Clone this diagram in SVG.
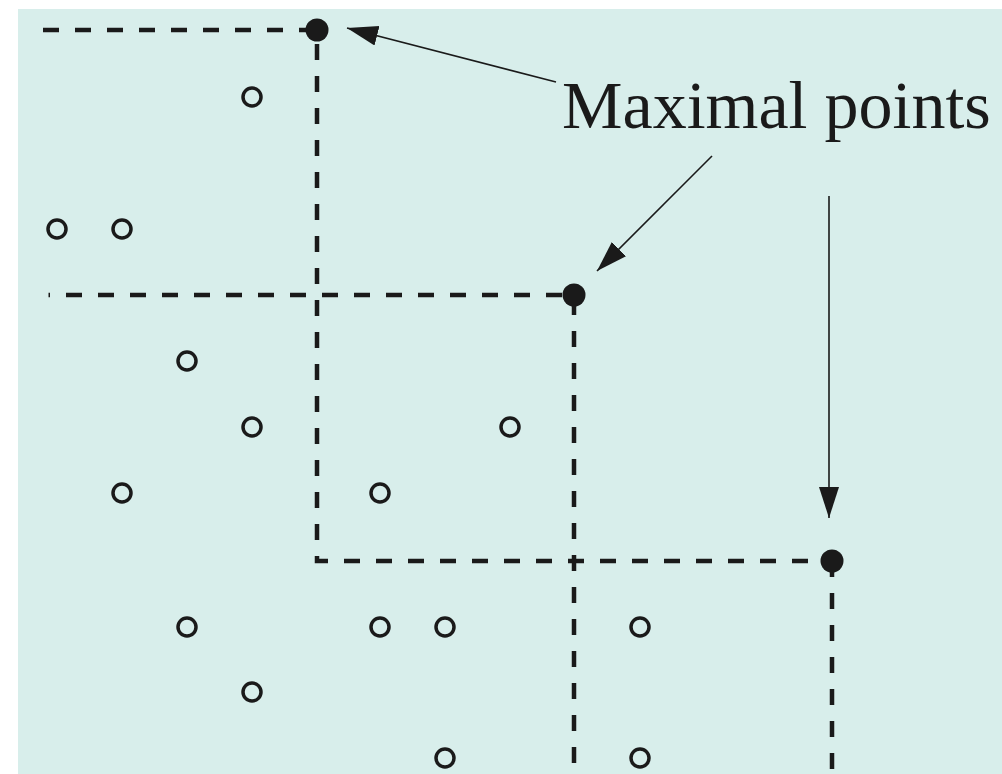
<svg xmlns="http://www.w3.org/2000/svg" width="1002" height="774" viewBox="0 0 1002 774">
  <style>
    .dash { fill: none; stroke: #1a1a1a; stroke-width: 4.5; stroke-dasharray: 16 16; }
    .open { fill: none; stroke: #1a1a1a; stroke-width: 3.5; }
    .max { fill: #1a1a1a; }
    .arrow { fill: none; stroke: #1a1a1a; stroke-width: 1.6; marker-end: url(#head); }
    .label { font-family: "Liberation Serif", "DejaVu Serif", serif; font-size: 68px; fill: #1a1a1a; }
  </style>
  <defs>
    <marker id="head" markerUnits="userSpaceOnUse" markerWidth="32" markerHeight="22" viewBox="0 0 32 22" refX="31" refY="11" orient="auto">
      <path d="M0,1 L31,11 L0,21 z" fill="#1a1a1a"/>
    </marker>
  </defs>
  <rect x="18" y="9" width="984" height="765" fill="#d8eeeb"/>

  <g id="connectors">
    <path class="dash" d="M43,30 H317 V561 H832"/>
    <path class="dash" d="M48.5,295 H574 V774" stroke-dashoffset="14.5"/>
    <path class="dash" d="M832,561 V774" stroke-dashoffset="0"/>
    <line class="arrow" x1="556" y1="82" x2="347" y2="28"/>
    <line class="arrow" x1="712" y1="156" x2="597" y2="271"/>
    <line class="arrow" x1="829" y1="196" x2="829" y2="518"/>
  </g>

  <g id="maximal-1"><circle class="max" cx="317" cy="30" r="11.5"/></g>
  <g id="maximal-2"><circle class="max" cx="574" cy="295" r="11.5"/></g>
  <g id="maximal-3"><circle class="max" cx="832" cy="561" r="11.5"/></g>

  <g id="points">
    <circle class="open" cx="252" cy="97" r="9"/>
    <circle class="open" cx="57" cy="229" r="9"/>
    <circle class="open" cx="122" cy="229" r="9"/>
    <circle class="open" cx="187" cy="361" r="9"/>
    <circle class="open" cx="252" cy="427" r="9"/>
    <circle class="open" cx="510" cy="427" r="9"/>
    <circle class="open" cx="122" cy="493" r="9"/>
    <circle class="open" cx="380" cy="493" r="9"/>
    <circle class="open" cx="187" cy="627" r="9"/>
    <circle class="open" cx="380" cy="627" r="9"/>
    <circle class="open" cx="445" cy="627" r="9"/>
    <circle class="open" cx="640" cy="627" r="9"/>
    <circle class="open" cx="252" cy="692" r="9"/>
    <circle class="open" cx="445" cy="758" r="9"/>
    <circle class="open" cx="640" cy="758" r="9"/>
  </g>

  <g id="label">
    <text class="label" x="562" y="128">Maximal points</text>
  </g>
</svg>
